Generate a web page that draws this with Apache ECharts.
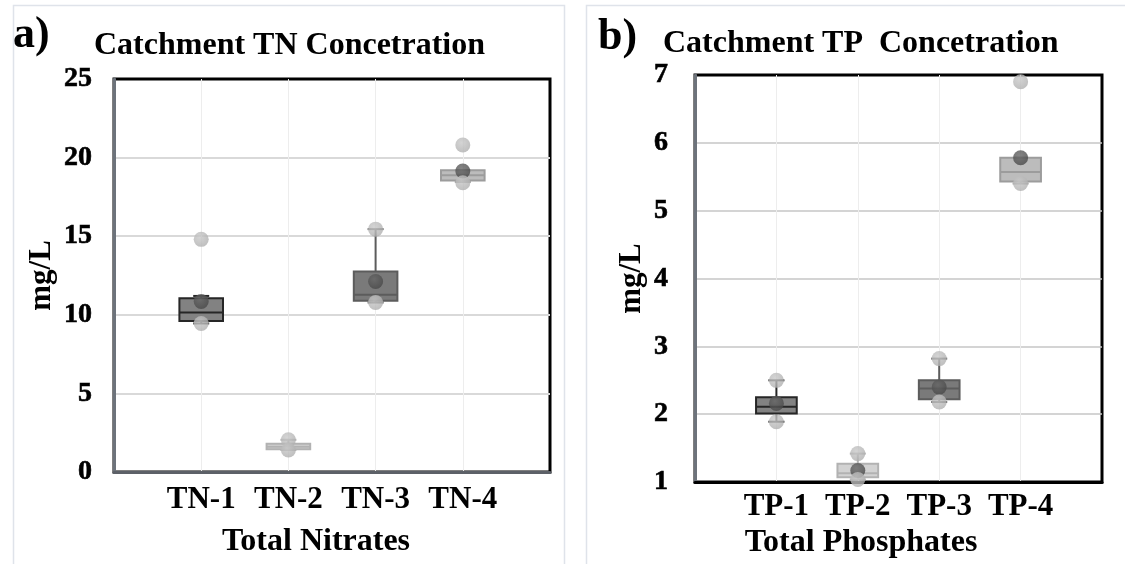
<!DOCTYPE html>
<html>
<head>
<meta charset="utf-8">
<script src="https://cdn.jsdelivr.net/npm/echarts@6/dist/echarts.min.js"></script>
<style>
  html, body { margin: 0; padding: 0; background: #fff; }
  #chart { width: 1125px; height: 564px; }
</style>
</head>
<body>
<div id="chart"></div>
<script>
// ---- data ----
const tnCategories = ['TN-1', 'TN-2', 'TN-3', 'TN-4'];
// [min, Q1, median, Q3, max] of whiskers / box
const tnBox = [
  [9.45, 9.6, 10.15, 11.05, 11.2],
  [1.4, 1.45, 1.6, 1.8, 2.05],
  [10.78, 10.9, 11.27, 12.75, 15.45],
  [18.45, 18.55, 18.88, 19.2, 19.2]
];
const tnMean = [10.85, null, 12.12, 19.15];
const tnPointHigh = [14.8, 2.05, 15.45, 20.8];
const tnPointLow = [9.45, 1.4, 10.78, 18.4];
const tnTicks = [0, 5, 10, 15, 20, 25];

const tpCategories = ['TP-1', 'TP-2', 'TP-3', 'TP-4'];
const tpBox = [
  [1.89, 2.01, 2.11, 2.25, 2.5],
  [1.04, 1.07, 1.13, 1.27, 1.42],
  [2.18, 2.22, 2.38, 2.5, 2.82],
  [5.4, 5.43, 5.57, 5.78, 5.78]
];
const tpMean = [2.16, 1.17, 2.4, 5.78];
const tpPointHigh = [2.5, 1.42, 2.82, 6.9];
const tpPointLow = [1.89, 1.04, 2.18, 5.4];
const tpTicks = [1, 2, 3, 4, 5, 6, 7];

// ---- styles ----
const FONT = '"Liberation Serif", "Times New Roman", serif';
const boxStyles = [
  { fill: '#828282', stroke: '#262626' },
  { fill: '#d2d2d2', stroke: '#b2b2b2' },
  { fill: '#7a7a7a', stroke: '#5c5c5c' },
  { fill: '#bcbcbc', stroke: '#9c9c9c' }
];
const lightDot = new echarts.graphic.RadialGradient(0.4, 0.35, 0.7, [
  { offset: 0, color: '#c9c9c9' },
  { offset: 1, color: '#aeaeae' }
]);
const darkDot = new echarts.graphic.RadialGradient(0.4, 0.35, 0.7, [
  { offset: 0, color: '#666666' },
  { offset: 1, color: '#474747' }
]);

function renderBox(params, api) {
  const x = api.value(0);
  const lo = api.coord([x, api.value(1)]);
  const q1 = api.coord([x, api.value(2)]);
  const md = api.coord([x, api.value(3)]);
  const q3 = api.coord([x, api.value(4)]);
  const hi = api.coord([x, api.value(5)]);
  const half = api.size([1, 0])[0] * 0.25;
  const cap = 8;
  const st = boxStyles[params.dataIndex];
  const line = { stroke: st.stroke, lineWidth: 2 };
  return {
    type: 'group',
    children: [
      { type: 'line', shape: { x1: hi[0], y1: hi[1], x2: q3[0], y2: q3[1] }, style: line },
      { type: 'line', shape: { x1: lo[0], y1: lo[1], x2: q1[0], y2: q1[1] }, style: line },
      { type: 'line', shape: { x1: hi[0] - cap, y1: hi[1], x2: hi[0] + cap, y2: hi[1] }, style: line },
      { type: 'line', shape: { x1: lo[0] - cap, y1: lo[1], x2: lo[0] + cap, y2: lo[1] }, style: line },
      {
        type: 'rect',
        shape: { x: q3[0] - half, y: q3[1], width: half * 2, height: q1[1] - q3[1] },
        style: { fill: st.fill, stroke: st.stroke, lineWidth: 2 }
      },
      { type: 'line', shape: { x1: md[0] - half, y1: md[1], x2: md[0] + half, y2: md[1] }, style: line }
    ]
  };
}

const toXY = arr => arr.map((v, i) => [i + 1, v]).filter(d => d[1] != null);

function axisPair(idx, cats, ticks, opt) {
  const x = {
    type: 'category',
    gridIndex: idx,
    data: ['', ...cats, ''],
    boundaryGap: false,
    axisTick: { show: false },
    axisLine: { show: true, lineStyle: { color: opt.bottomColor, width: 3 } },
    axisLabel: {
      interval: 0, margin: opt.catMargin,
      color: '#000', fontFamily: FONT, fontWeight: 'bold', fontSize: 31
    },
    splitLine: {
      show: true,
      interval: (i) => i > 0 && i <= cats.length,
      lineStyle: { color: '#ededed', width: 1 }
    },
    name: opt.xName,
    nameLocation: 'middle',
    nameGap: opt.xNameGap,
    nameTextStyle: {
      color: '#000', fontFamily: FONT, fontWeight: 'bold', fontSize: 32,
      padding: [0, opt.xNameShift, 0, 0]
    }
  };
  const y = {
    type: 'value',
    gridIndex: idx,
    min: ticks[0],
    max: ticks[ticks.length - 1],
    interval: ticks[1] - ticks[0],
    axisTick: { show: false },
    axisLine: { show: true, lineStyle: { color: '#6d737b', width: 3 } },
    axisLabel: {
      margin: opt.tickMargin,
      color: '#000', fontFamily: FONT, fontWeight: 'bold', fontSize: 28,
      textBorderColor: '#000', textBorderWidth: 0.6
    },
    splitLine: {
      showMinLine: false, showMaxLine: false,
      lineStyle: { color: opt.gridColor, width: opt.gridWidth }
    },
    name: 'mg/L',
    nameLocation: 'middle',
    nameGap: opt.yNameGap,
    nameTextStyle: { color: '#000', fontFamily: FONT, fontWeight: 'bold', fontSize: 31 }
  };
  return [x, y];
}

const [tnX, tnY] = axisPair(0, tnCategories, tnTicks, {
  bottomColor: '#5d6168', catMargin: 12, xName: 'Total Nitrates', xNameGap: 54, xNameShift: 32,
  tickMargin: 22, gridColor: '#d9d9d9', gridWidth: 2, yNameGap: 57
});
const [tpX, tpY] = axisPair(1, tpCategories, tpTicks, {
  bottomColor: '#000', catMargin: 9, xName: 'Total Phosphates', xNameGap: 43, xNameShift: 75,
  tickMargin: 27, gridColor: '#c6c6c6', gridWidth: 1.5, yNameGap: 48
});

function seriesFor(idx, box, mean, high, low) {
  return [
    {
      type: 'custom', xAxisIndex: idx, yAxisIndex: idx,
      renderItem: renderBox,
      encode: { x: 0, y: [1, 2, 3, 4, 5] },
      data: box.map((b, i) => [i + 1, ...b]),
      z: 3
    },
    {
      type: 'scatter', xAxisIndex: idx, yAxisIndex: idx,
      symbolSize: 15, itemStyle: { color: darkDot },
      data: toXY(mean), z: 4
    },
    {
      type: 'scatter', xAxisIndex: idx, yAxisIndex: idx,
      symbolSize: 15, itemStyle: { color: lightDot },
      data: toXY(high).concat(toXY(low)), z: 5
    }
  ];
}

const chart = echarts.init(document.getElementById('chart'));
const textStyle = (size) => ({ fontFamily: FONT, fontWeight: 'bold', fontSize: size, fill: '#000', verticalAlign: 'middle' });

chart.setOption({
  backgroundColor: '#fff',
  animation: false,
  grid: [
    { left: 114, top: 79, width: 436, height: 393, show: true, borderColor: '#000', borderWidth: 3, containLabel: false },
    { left: 695, top: 75, width: 407, height: 413, show: true, borderColor: '#000', borderWidth: 3, containLabel: false }
  ],
  xAxis: [tnX, tpX],
  yAxis: [tnY, tpY],
  series: seriesFor(0, tnBox, tnMean, tnPointHigh, tnPointLow)
    .concat(seriesFor(1, tpBox, tpMean, tpPointHigh, tpPointLow)),
  graphic: [
    { type: 'rect', shape: { x: 13.5, y: 5.5, width: 551, height: 600 }, style: { fill: 'none', stroke: '#dfe3ea', lineWidth: 1.5 }, z: -1 },
    { type: 'rect', shape: { x: 586.5, y: 5.5, width: 560, height: 600 }, style: { fill: 'none', stroke: '#dfe3ea', lineWidth: 1.5 }, z: -1 },
    { type: 'text', x: 13, y: 36, style: Object.assign(textStyle(44), { text: 'a)' }) },
    { type: 'text', x: 94, y: 46, style: Object.assign(textStyle(32), { text: 'Catchment TN Concetration' }) },
    { type: 'text', x: 598, y: 38, style: Object.assign(textStyle(44), { text: 'b)' }) },
    { type: 'text', x: 663, y: 44, style: Object.assign(textStyle(32), { text: 'Catchment TP\u00a0 Concetration' }) }
  ]
});
</script>
</body>
</html>
